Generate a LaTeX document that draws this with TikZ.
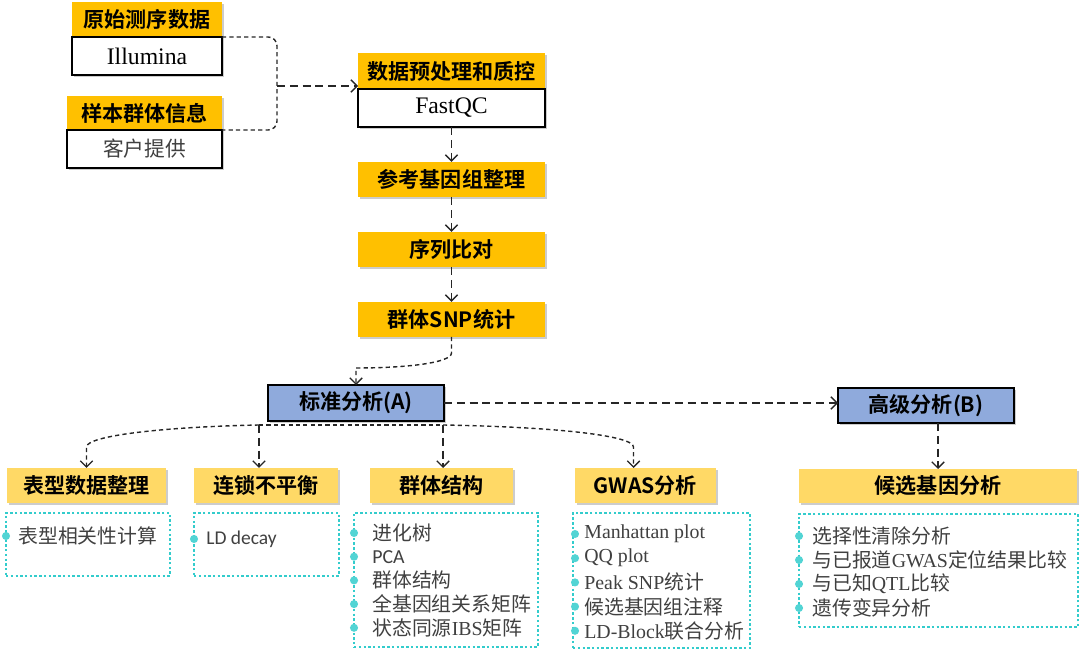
\documentclass[tikz,border=0pt]{standalone}
\usepackage{fontspec}
\setmainfont{Liberation Serif}
\newfontfamily\cjk{Noto Sans CJK SC}
\newfontfamily\cjkbold{Noto Sans CJK SC Bold}
\newfontfamily\calibri{Carlito}
\usepackage{tikz}
\usetikzlibrary{arrows.meta, positioning, calc, shadows}
\definecolor{hdrOrange}{RGB}{255, 192, 0}
\definecolor{hdrYellow}{RGB}{255, 217, 102}
\definecolor{anaBlue}{RGB}{143, 170, 220}
\definecolor{dotCyan}{RGB}{51, 204, 204}
\definecolor{itemGray}{RGB}{64, 64, 64}
\newcommand{\zh}[1]{{\cjk #1}}
\tikzstyle{arrow} = [-{Straight Barb[length=3.5pt,width=7pt]}]
\tikzstyle{shortdash} = [line width=0.8pt, black!85, dash pattern=on 2.4pt off 1.8pt]
\tikzstyle{longdash} = [line width=0.8pt, black!85, dash pattern=on 4.5pt off 2.8pt]
\tikzstyle{boxshadow} = [drop shadow={shadow xshift=1.2pt, shadow yshift=-1.2pt, opacity=0.4}]
\tikzstyle{basic} = [rectangle, inner sep=0pt, outer sep=0pt, text centered]
\tikzstyle{hdr} = [basic, boxshadow, fill=hdrOrange, minimum height=0.7cm, font=\cjkbold\fontsize{12}{14}\selectfont]
\tikzstyle{subhdr} = [hdr, fill=hdrYellow]
\tikzstyle{whitebox} = [basic, boxshadow, draw=black, line width=0.8pt, fill=white, minimum height=0.76cm]
\tikzstyle{bluebox} = [basic, boxshadow, draw=black, line width=0.9pt, fill=anaBlue, minimum height=0.72cm, font=\cjkbold\fontsize{12}{14}\selectfont]
\tikzstyle{listbox} = [basic, draw=dotCyan, line width=1.4pt, dash pattern=on 1.4pt off 1.3pt]
\tikzstyle{item} = [anchor=west, inner sep=0pt, text=itemGray, font=\fontsize{11.3}{13}\selectfont]
\tikzstyle{bullet} = [fill=dotCyan!85!white]

\begin{document}
\begin{tikzpicture}[x=0.02cm, y=-0.02cm]
\useasboundingbox (0,0) rectangle (1080,651);

% inputs
\node (raw) [hdr, minimum width=3cm] at (147,19.5) {原始测序数据};
\node (illu) [whitebox, minimum width=3cm, anchor=north, font=\fontsize{13.5}{15}\selectfont] at(raw.south) {Illumina};
\node (sample) [hdr, minimum width=3.1cm, minimum height=0.68cm] at (144.5,113) {样本群体信息};
\node (client) [whitebox, minimum width=3.1cm, anchor=north, text=itemGray, font=\cjk\fontsize{11.8}{14}\selectfont] at(sample.south) {客户提供};

% pipeline
\node (prep) [hdr, minimum width=3.74cm, minimum height=0.72cm] at (451.5,71) {数据预处理和质控};
\node (fastqc) [whitebox, minimum width=3.74cm, anchor=north, font=\fontsize{13.5}{15}\selectfont] at(prep.south) {FastQC};
\node (refg) [hdr, minimum width=3.74cm, below=7mm of fastqc] {参考基因组整理};
\node (align) [hdr, minimum width=3.74cm, below=7mm of refg] {序列比对};
\node (snp) [hdr, minimum width=3.74cm, below=7mm of align] {群体SNP统计};

% analyses
\node (stdA) [bluebox, minimum width=3.52cm] at (356,403) {标准分析(A)};
\node (advB) [bluebox, minimum width=3.52cm, minimum height=0.7cm] at (926,405.5) {高级分析(B)};

\node (pheno) [subhdr, minimum width=3.18cm] at (86.5,485.5) {表型数据整理};
\node (ld) [subhdr, minimum width=2.88cm] at (266,485.5) {连锁不平衡};
\node (pop) [subhdr, minimum width=2.86cm] at (441.5,485.5) {群体结构};
\node (gwas) [subhdr, minimum width=2.82cm] at (645.5,485.5) {GWAS分析};
\node (cand) [subhdr, minimum width=5.56cm, minimum height=0.68cm] at (938,486) {候选基因分析};

% lists
\node (phenoL) [listbox, minimum width=3.28cm, minimum height=1.26cm] at (88,544.5) {};
\node (ldL) [listbox, minimum width=2.9cm, minimum height=1.26cm] at (266.5,544.5) {};
\node (popL) [listbox, minimum width=3.68cm, minimum height=2.68cm] at (446,580) {};
\node (gwasL) [listbox, minimum width=3.54cm, minimum height=2.7cm] at (661.5,580.5) {};
\node (candL) [listbox, minimum width=5.58cm, minimum height=2.26cm] at (938.5,570.5) {};

\node (pheno1) [item] at (18,536) {\zh{表型相关性计算}};
\fill [bullet] (phenoL.west |- pheno1) circle [radius=2.3pt];
\node (ld1) [item, font=\calibri\fontsize{11.1}{13}\selectfont] at (206,539) {LD decay};
\fill [bullet] (ldL.west |- ld1) circle [radius=2.3pt];

\foreach \txt [count=\i] in {\zh{进化树}, {\calibri PCA}, \zh{群体结构}, \zh{全基因组关系矩阵}, \zh{状态同源}IBS\zh{矩阵}} {
  \node (pop\i) [item] at (372, 509.3+23.7*\i) {\txt};
  \fill [bullet] (popL.west |- pop\i) circle [radius=2.3pt];
}
\foreach \txt [count=\i] in {Manhattan plot, QQ plot, Peak SNP\zh{统计}, \zh{候选基因组注释}, LD-Block\zh{联合分析}} {
  \node (gwas\i) [item] at (584, 509.8+24.2*\i) {\txt};
  \fill [bullet] ($(gwasL.west |- gwas\i)+(2,0)$) circle [radius=2.3pt];
}
\foreach \txt [count=\i] in {\zh{选择性清除分析}, \zh{与已报道}GWAS\zh{定位结果比较}, \zh{与已知}QTL\zh{比较}, \zh{遗传变异分析}} {
  \node (cand\i) [item] at (812, 512+24*\i) {\txt};
  \fill [bullet] (candL.west |- cand\i) circle [radius=2.3pt];
}

% connectors
\coordinate (joinR) at (277,86);
\draw [shortdash, rounded corners=5pt] (illu.north east) -| (joinR) |- (client.north east);
\draw [longdash, arrow] (joinR) -- (joinR -| prep.west);
\draw [longdash, arrow] (fastqc.south) -- (refg.north);
\draw [longdash, arrow] (refg.south) -- (align.north);
\draw [longdash, arrow] (align.south) -- (snp.north);

\coordinate (aTop) at ($(stdA.north)+(0,-17)$);
\draw [shortdash, arrow] (snp.south) -- ++(0,16) .. controls +(0,10) and +(50,0) .. (aTop) -- (stdA.north);

\coordinate (brL) at (259,425);
\coordinate (brR) at (443,425);
\coordinate (gwasIn) at ($(gwas.north)+(-12,0)$);
\draw [shortdash] (brL) -- (brR);
\draw [shortdash, arrow] (brL) .. controls (160,427) and ($(pheno.north)+(0,-32)$) .. ($(pheno.north)+(0,-21)$) -- (pheno.north);
\draw [longdash, arrow] (brL) -- (brL |- ld.north);
\draw [longdash, arrow] (brR) -- (brR |- pop.north);
\draw [shortdash, arrow] (brR) .. controls (560,427) and ($(gwasIn)+(0,-32)$) .. ($(gwasIn)+(0,-21)$) -- (gwasIn);
\draw [longdash, arrow] (stdA.east) -- (stdA.east -| advB.west);
\draw [longdash, arrow] (advB.south -| cand.north) -- (cand.north);

\end{tikzpicture}
\end{document}
